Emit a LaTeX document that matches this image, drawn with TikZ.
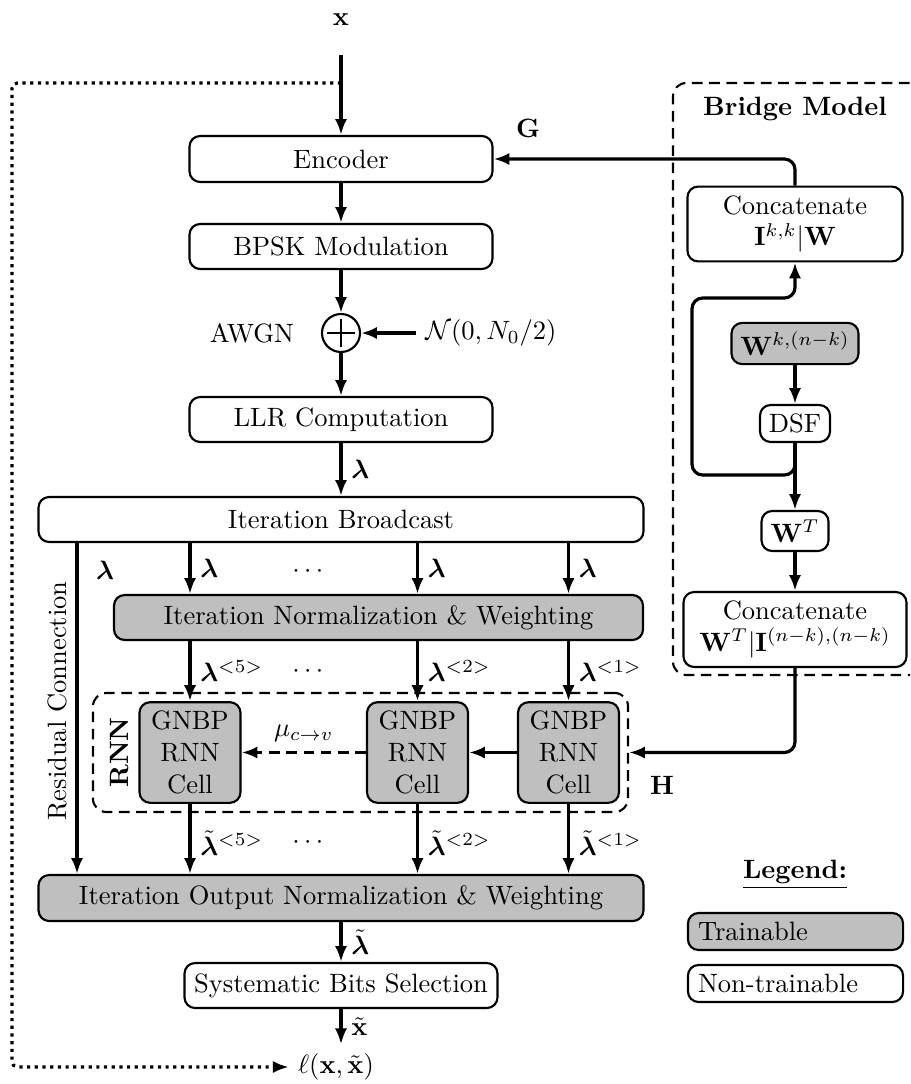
\documentclass[tikz,border=0pt]{standalone}
\usepackage{amsmath,amssymb,bm}
\usetikzlibrary{arrows.meta}

\newcommand\pxl{0.377pt}

\begin{document}
\begin{tikzpicture}[x=\pxl,y=-\pxl,
  sz/.style 2 args={minimum width=#1*\pxl, minimum height=#2*\pxl},
  blk/.style={draw, line width=0.8pt, rounded corners=4pt, align=center, fill=white},
  train/.style={blk, fill=gray!50},
  tip/.style={-{Latex[length=6pt,width=4.6pt]}},
  arr/.style={line width=1.2pt, tip},
  dsh/.style={dash pattern=on 4pt off 2.5pt},
  grp/.style={draw, dsh, line width=0.8pt, rounded corners=5pt},
  leg/.style={inner xsep=3.8pt, text width=73.5pt, align=left},
  dotline/.style={line width=1.2pt, dash pattern=on 1.2pt off 1.7pt, rounded corners=2pt, tip},
]
\useasboundingbox (0,0) rectangle (910,1084);
\clip (0,0) rectangle (910,1084);

% ---- helper coordinates ----
\coordinate (xin)   at (341,55);
\coordinate (tap)   at (341,83);
\coordinate (tl)    at (12,83);
\coordinate (bl)    at (12,1067);
\coordinate (colR)  at (77,0);
\coordinate (loopB) at (795,475);
\coordinate (loopL) at (692,298);

% ---- main chain ----
\node (xlab) at (341,20) {$\mathbf{x}$};
\node[blk, sz={303}{46}] (enc)  at (341,159)   {Encoder};
\node[blk, sz={303}{45}] (bpsk) at (341,246.5) {BPSK Modulation};
\node[draw, circle, line width=0.8pt, minimum size=38*\pxl, inner sep=0pt] (add) at (341,333) {};
\draw[line width=0.6pt] (add.center) ++(-14,0) -- ++(28,0);
\draw[line width=0.6pt] (add.center) ++(0,-14) -- ++(0,28);
\node (awgn)  at (252,333) {AWGN};
\node (noise) at (491,333) {$\mathcal{N}(0, N_0/2)$};
\node[blk, sz={303}{45}] (llr) at (341,419.5) {LLR Computation};
\node[blk, sz={605}{45}] (ib)  at (341,519.5) {Iteration Broadcast};
\node[train, sz={529}{45}] (inw) at (378.5,617.5) {Iteration Normalization \& Weighting};

% ---- recurrent cells ----
\node[grp, sz={535}{119}] (rnn) at (360.5,752.5) {};
\node[train, sz={101}{99}] (c5) at (190,752.5)   {GNBP\\RNN\\Cell};
\node[train, sz={101}{99}] (c2) at (417.5,752.5) {GNBP\\RNN\\Cell};
\node[train, sz={101}{99}] (c1) at (568.5,752.5) {GNBP\\RNN\\Cell};
\node[rotate=90, font=\bfseries] at (120,752.5) {RNN};

\node[train, sz={605}{46}] (outn) at (341,898) {Iteration Output Normalization \& Weighting};
\node[blk, sz={313}{45}] (sys) at (341,985.5) {Systematic Bits Selection};
\node (loss) at (336,1067) {$\ell(\mathbf{x},\tilde{\mathbf{x}})$};

\node[rotate=90] at (57,701) {Residual Connection};
\node at (105,570) {$\boldsymbol{\lambda}$};
\node at (310,572) {$\cdots$};
\node at (310,672) {$\cdots$};
\node at (310,843) {$\cdots$};

% ---- bridge model ----
\node[grp, sz={267}{592}] (bridge) at (806.5,379) {};
\node[font=\bfseries] at (795,109) {Bridge Model};
\node[blk, sz={215}{74}] (catI) at (795,224) {Concatenate\\$\mathbf{I}^{k,k}|\mathbf{W}$};
\node[train, sz={126}{41}] (wk) at (795,343.5) {$\mathbf{W}^{k,(n-k)}$};
\node[blk, sz={70}{35}] (dsf) at (795,423.5) {DSF};
\node[blk, sz={67}{40}] (wt) at (795,531) {$\mathbf{W}^T$};
\node[blk, sz={223}{75}] (catW) at (795,629.5) {Concatenate\\$\mathbf{W}^T|\mathbf{I}^{(n-k),(n-k)}$};
\node at (528,128) {$\mathbf{G}$};
\node at (662,785) {$\mathbf{H}$};

% ---- legend ----
\node at (795,875) {\underline{\textbf{Legend:}}};
\node[train, leg, sz={215}{37}] at (795.5,931.5) {Trainable};
\node[blk, leg, sz={215}{37}] at (795.5,983.5) {Non-trainable};

% ---- connectors ----
\draw[arr] (xin) -- (enc.north);
\draw[arr] (enc.south) -- (bpsk.north);
\draw[arr] (bpsk.south) -- (add.north);
\draw[arr] (noise.west) -- (add.east);
\draw[arr] (add.south) -- (llr.north);
\draw[arr] (llr.south) -- node[right]{$\boldsymbol{\lambda}$} (ib.north);
\draw[arr] (ib.south -| colR) -- (outn.north -| colR);
\foreach \c/\k in {c5/5, c2/2, c1/1}{
  \draw[arr] (ib.south -| \c.north) -- node[right]{$\boldsymbol{\lambda}$} (inw.north -| \c.north);
  \draw[arr] (inw.south -| \c.north) -- node[right]{$\boldsymbol{\lambda}^{<\k>}$} (\c.north);
  \draw[arr] (\c.south) -- node[right, yshift=-1.5pt]{$\tilde{\boldsymbol{\lambda}}^{<\k>}$} (outn.north -| \c.south);
}
\draw[arr] (c1.west) -- (c2.east);
\draw[arr, dsh] (c2.west) -- node[above]{$\mu_{c\to v}$} (c5.east);
\draw[arr] (outn.south) -- node[right]{$\tilde{\boldsymbol{\lambda}}$} (sys.north);
\draw[arr] (sys.south) -- node[right]{$\tilde{\mathbf{x}}$} (sys.south |- loss.north);
\draw[dotline] (tap) -- (tl) -- (bl) -- (loss.west);

\draw[arr, rounded corners=4pt] (catI.north) |- (enc.east);
\draw[arr] (wk.south) -- (dsf.north);
\draw[arr] (dsf.south) -- (wt.north);
\draw[arr, rounded corners=4pt] (dsf.south) -- (loopB) -| (loopL) -| (catI.south);
\draw[arr] (wt.south) -- (catW.north);
\draw[arr, rounded corners=4pt] (catW.south) |- (rnn.east);
\end{tikzpicture}
\end{document}
